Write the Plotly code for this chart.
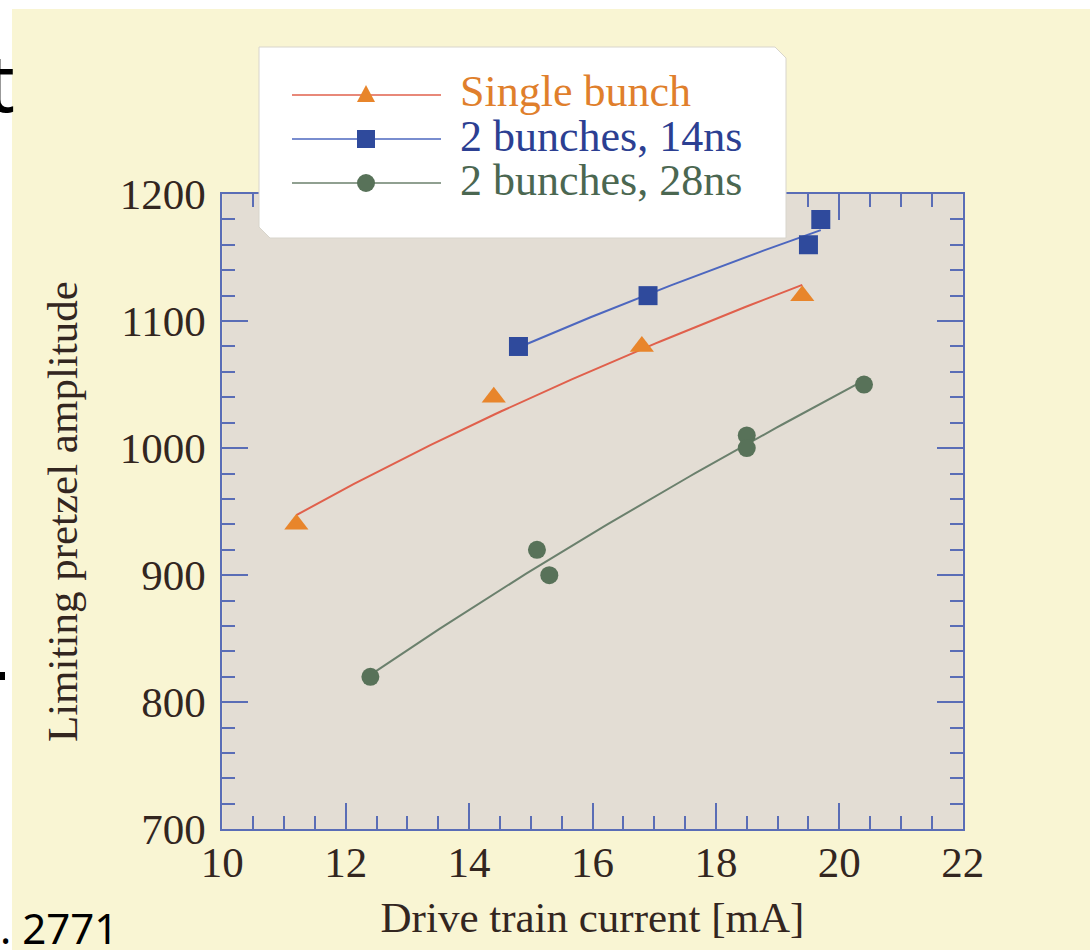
import numpy as np
import plotly.graph_objects as go

W, H = 1090, 950

# Measured pretzel amplitude limits vs. drive train current
single_x = [11.2, 14.4, 16.8, 19.4]
single_y = [940, 1040, 1080, 1120]

b14_x = [14.8, 16.9, 19.5, 19.7]
b14_y = [1080, 1120, 1160, 1180]

b28_x = [12.4, 15.1, 15.3, 18.5, 18.5, 20.4]
b28_y = [820, 920, 900, 1010, 1000, 1050]

series_names = ["Single bunch", "2 bunches, 14ns", "2 bunches, 28ns"]

x_ticks = [10, 12, 14, 16, 18, 20, 22]
y_ticks = [700, 800, 900, 1000, 1100, 1200]

# colours
YELLOW = "#f9f5d3"
PLOT_BG = "#e3ddd4"
AXIS = "#5a6db6"
TXT = "#33261f"
ORANGE = "#e8852b"
RED_LINE = "#e0604c"
BLUE = "#2f4a9c"
BLUE_LINE = "#4d67bf"
GREEN = "#587259"
GREEN_LINE = "#6b806d"
SERIF = "Liberation Serif"


def px(x):
    return x / W


def py(y):
    return 1 - y / H


def power_fit(x, y, n=80):
    """Least-squares fit y = a * x**b, sampled over the data span."""
    b, loga = np.polyfit(np.log(x), np.log(y), 1)
    xs = np.linspace(min(x), max(x), n)
    return xs, np.exp(loga) * xs ** b


fig = go.Figure()

series = [
    (single_x, single_y, "triangle-up", ORANGE, RED_LINE, 21),
    (b14_x, b14_y, "square", BLUE, BLUE_LINE, 19),
    (b28_x, b28_y, "circle", GREEN, GREEN_LINE, 18),
]

for (xv, yv, sym, mcol, lcol, msize), name in zip(series, series_names):
    fx, fy = power_fit(xv, yv)
    fig.add_trace(go.Scatter(x=fx, y=fy, mode="lines", line=dict(color=lcol, width=2),
                             showlegend=False, hoverinfo="skip"))
    fig.add_trace(go.Scatter(x=xv, y=yv, mode="markers", name=name,
                             marker=dict(symbol=sym, size=msize, color=mcol, line=dict(width=0)),
                             showlegend=False))

axis_common = dict(
    showline=True, linecolor=AXIS, linewidth=2, mirror="allticks",
    ticks="inside", ticklen=26, tickwidth=1.5, tickcolor=AXIS,
    showgrid=False, zeroline=False, automargin=False,
    tickfont=dict(family=SERIF, size=43, color=TXT),
)

fig.update_xaxes(
    domain=[px(222.3), px(962.7)], range=[10, 22],
    tickvals=x_ticks, ticktext=[str(v) for v in x_ticks],
    minor=dict(dtick=0.5, tick0=10, ticks="inside", ticklen=13, tickwidth=1.5, tickcolor=AXIS),
    ticklabelstandoff=-6,
    title=dict(text="Drive train current [mA]", font=dict(family=SERIF, size=43, color=TXT), standoff=17),
    **axis_common,
)
fig.update_yaxes(
    domain=[py(829.3), py(194)], range=[700, 1200],
    tickvals=y_ticks, ticktext=[str(v) for v in y_ticks],
    minor=dict(dtick=20, tick0=700, ticks="inside", ticklen=13, tickwidth=1.5, tickcolor=AXIS),
    ticklabelstandoff=6,
    title=dict(text="Limiting pretzel amplitude", font=dict(family=SERIF, size=43, color=TXT), standoff=29),
    **axis_common,
)

shapes = []
# white page strips on top and left
shapes.append(dict(type="rect", xref="paper", yref="paper", x0=0, x1=1, y0=py(9), y1=1,
                   fillcolor="white", line=dict(width=0), layer="below"))
shapes.append(dict(type="rect", xref="paper", yref="paper", x0=0, x1=px(12), y0=0, y1=1,
                   fillcolor="white", line=dict(width=0), layer="below"))
# stray dash at the left margin
shapes.append(dict(type="rect", xref="paper", yref="paper", x0=0, x1=px(5), y0=py(680), y1=py(672),
                   fillcolor="black", line=dict(width=0), layer="above"))

# legend box with chamfered corners
bx0, bx1, by0, by1, ch = 259, 786, 47, 238, 11
box_path = (f"M {px(bx0)},{py(by0)} L {px(bx1 - ch)},{py(by0)} L {px(bx1)},{py(by0 + ch)} "
            f"L {px(bx1)},{py(by1)} L {px(bx0 + ch)},{py(by1)} L {px(bx0)},{py(by1 - ch)} Z")
shapes.append(dict(type="path", xref="paper", yref="paper", path=box_path,
                   fillcolor="white", line=dict(color="#d8d5cc", width=1), layer="above"))

rows = [95, 139, 183]
lx0, lx1, mx = 292, 441, 366
line_cols = [RED_LINE, BLUE_LINE, GREEN_LINE]
for r, lc in zip(rows, line_cols):
    shapes.append(dict(type="line", xref="paper", yref="paper", x0=px(lx0), x1=px(lx1), y0=py(r), y1=py(r),
                       line=dict(color=lc, width=1.5), layer="above"))
# legend symbols
s = 9
r0 = rows[0]
shapes.append(dict(type="path", xref="paper", yref="paper",
                   path=f"M {px(mx - s)},{py(r0 + 7)} L {px(mx + s)},{py(r0 + 7)} L {px(mx)},{py(r0 - 10)} Z",
                   fillcolor=ORANGE, line=dict(width=0), layer="above"))
r1 = rows[1]
shapes.append(dict(type="rect", xref="paper", yref="paper", x0=px(mx - 9), x1=px(mx + 9),
                   y0=py(r1 + 9), y1=py(r1 - 9), fillcolor=BLUE, line=dict(width=0), layer="above"))
r2 = rows[2]
shapes.append(dict(type="circle", xref="paper", yref="paper", x0=px(mx - 9), x1=px(mx + 9),
                   y0=py(r2 + 9), y1=py(r2 - 9), fillcolor=GREEN, line=dict(width=0), layer="above"))

legend_text_cols = ["#e07f2c", "#2c3f92", "#4b6751"]
annotations = []
for r, name, col in zip(rows, series_names, legend_text_cols):
    annotations.append(dict(x=px(458), y=py(r - 3), xref="paper", yref="paper", text=name,
                            showarrow=False, xanchor="left", yanchor="middle",
                            font=dict(family=SERIF, size=44, color=col)))

# fragments of surrounding slide text
annotations.append(dict(x=px(17), y=py(80), xref="paper", yref="paper", text="t", showarrow=False,
                        xanchor="right", yanchor="middle", font=dict(family="Noto Sans", size=80, color="black")))
annotations.append(dict(x=px(-2), y=py(927), xref="paper", yref="paper", text=". 2771", showarrow=False,
                        xanchor="left", yanchor="middle", font=dict(family="Noto Sans", size=42, color="black")))

fig.update_layout(
    width=W, height=H, autosize=False,
    margin=dict(l=0, r=0, t=0, b=0, pad=0, autoexpand=False),
    paper_bgcolor=YELLOW, plot_bgcolor=PLOT_BG,
    shapes=shapes, annotations=annotations,
    showlegend=False,
)

fig.write_html("out.html")
